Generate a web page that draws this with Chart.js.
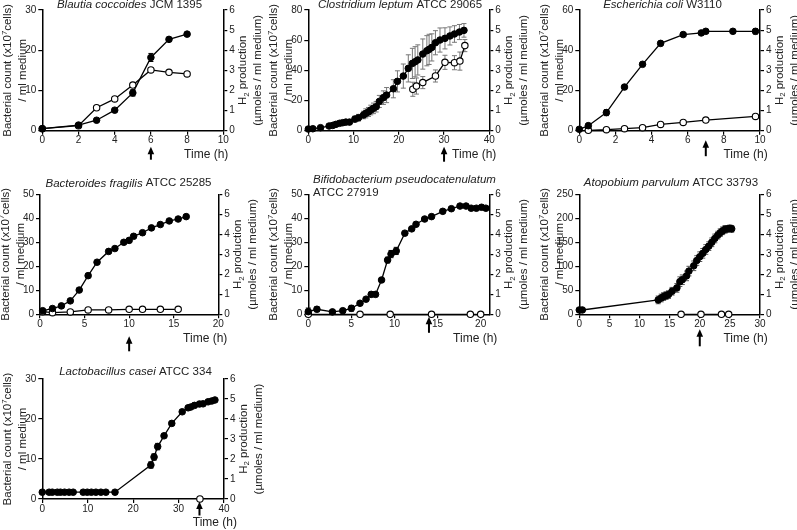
<!DOCTYPE html>
<html>
<head>
<meta charset="utf-8">
<script src="https://cdn.jsdelivr.net/npm/chart.js@4/dist/chart.umd.min.js"></script>
<style>
  html, body { margin: 0; padding: 0; background: #fff; }
  #wrap { position: relative; width: 797px; height: 530px; overflow: hidden; }
  #wrap canvas { position: absolute; left: 0; top: 0; }
</style>
</head>
<body>
<div id="wrap"></div>
<script>
// ---- data ----
// Blautia coccoides JCM 1395
const blautiaTime = [0, 2, 3, 4, 5, 6, 7, 8];
const blautiaCells = [0.5, 1.4, 2.6, 5.1, 9.4, 18.2, 22.7, 24.0];
const blautiaCellsErr = [0, 0, 0, 0.3, 0.8, 1.0, 0.4, 0.3];
const blautiaH2Time = [0, 2, 3, 4, 5, 6, 7, 8];
const blautiaH2 = [0.1, 0.25, 1.14, 1.58, 2.27, 3.02, 2.9, 2.82];
const blautiaH2Err = [0, 0, 0.08, 0.05, 0.05, 0.04, 0, 0];

// Clostridium leptum ATCC 29065
const clostridiumTime = [0, 1, 2.7, 4.6, 5.4, 6.1, 6.9, 7.6, 8.3, 9.1, 10.3, 11.1, 12.2, 12.7, 13.3, 13.8, 14.4, 15, 15.7, 16.6,
  17.3, 18.8, 19.7, 21, 22.1, 23, 23.6, 24.2, 25.3, 26.2, 26.7, 27.3, 28.1, 29.1, 30.2, 31.3, 32.3, 33.4, 34.4];
const clostridiumCells = [1.1, 1.3, 2, 3.1, 3.5, 4.2, 4.9, 5.3, 5.7, 5.7, 7.7, 8.6, 10.4, 11.5, 12.4, 13.7, 14.8, 15.9, 19.4, 21.9,
  23.6, 27.8, 32.7, 36.2, 41.3, 44.6, 45.7, 46.9, 50.8, 53, 53.9, 55.2, 58.3, 60.1, 61.2, 62.8, 64.1, 65.4, 66.5];
const clostridiumCellsErr = [0.5, 0.5, 0.7, 0.8, 1, 1, 1.2, 1.2, 1.5, 1.5, 2, 2.2, 2.5, 3, 3, 3.2, 3.5, 3.5, 4, 4.5,
  5, 6, 7, 8, 9, 10, 10, 10, 10, 10, 10, 9, 8, 8, 7, 6, 5.5, 5, 4.5];
const clostridiumH2Time = [23.1, 23.9, 25.3, 28.1, 30.2, 32.3, 33.5, 34.6];
const clostridiumH2 = [2.06, 2.22, 2.39, 2.72, 3.4, 3.38, 3.46, 4.23];
const clostridiumH2Err = [0.35, 0.4, 0.3, 0.3, 0.35, 0.35, 0.45, 0.3];

// Escherichia coli W3110
const ecoliTime = [0, 0.5, 1.5, 2.5, 3.5, 4.5, 5.75, 6.75, 7, 8.5, 9.75];
const ecoliCells = [0.7, 2.5, 9, 21.7, 33, 43.4, 47.8, 48.6, 49.4, 49.4, 49.4];
const ecoliCellsErr = [0, 0.4, 1.5, 1, 0.8, 0.5, 0.5, 0.5, 0.5, 0.5, 1.3];
const ecoliH2Time = [0.5, 1.5, 2.5, 3.5, 4.5, 5.75, 7, 9.75];
const ecoliH2 = [0.02, 0.05, 0.1, 0.15, 0.31, 0.41, 0.53, 0.71];

// Bacteroides fragilis ATCC 25285
const fragilisTime = [0.3, 1.4, 2.4, 3.4, 4.4, 5.4, 6.4, 7.7, 8.4, 9.4, 10, 10.5, 11.5, 12.5, 13.5, 14.5, 15.5, 16.4];
const fragilisCells = [1.5, 2.4, 3.5, 5.6, 10.1, 16.1, 21.7, 26.2, 27.4, 30, 30.8, 32.5, 34, 36, 37.4, 38.9, 39.7, 40.7];
const fragilisH2Time = [0.3, 1.4, 3.4, 5.4, 7.7, 10, 11.5, 13.5, 15.5];
const fragilisH2 = [0.13, 0.08, 0.12, 0.22, 0.22, 0.25, 0.25, 0.25, 0.25];

// Bifidobacterium pseudocatenulatum ATCC 27919
const bifidoTime = [0, 1, 2.8, 4, 5, 6, 6.7, 7.3, 7.8, 8.5, 9.2, 9.6, 10.2, 11.2, 12, 12.5, 13.5, 14.3, 15.6, 16.6,
  17.6, 18.3, 18.9, 19.5, 20.1, 20.6];
const bifidoCells = [1.1, 2.1, 1, 1.5, 2.5, 4.6, 6.3, 8.3, 8.3, 14.3, 22.6, 25.1, 26.4, 33.8, 35.6, 37.5, 39.7, 40.7, 42.9, 44,
  45.1, 45.1, 44.2, 44.2, 44.6, 44.2];
const bifidoCellsErr = [1.5, 1, 0.5, 0.8, 1.2, 0.5, 0.5, 0.5, 0.5, 0.8, 1.2, 1.5, 1.5, 0.5, 0.5, 0.5, 0.5, 0.5, 0.5, 0.5,
  0.5, 0.5, 0.5, 0.5, 0.5, 0.5];
const bifidoH2Time = [0, 6, 9.5, 14.3, 18.8, 20];
const bifidoH2 = [0, 0, 0, 0, 0, 0];

// Atopobium parvulum ATCC 33793
const atopobiumTime = [0, 0.5, 13.1, 13.6, 14, 14.4, 14.8, 15.4, 16.2, 16.7, 17.1, 17.8, 18.2, 19, 19.5, 20, 20.5, 21, 21.5, 22,
  22.5, 23, 23.4, 23.8, 24.2, 24.6, 25, 25.3];
const atopobiumCells = [9, 9, 30, 34, 37, 39, 41, 48, 55, 68, 72, 80, 90, 101, 112, 120, 127, 135, 142, 150,
  158, 165, 170, 174, 177, 178, 179, 178];
const atopobiumCellsErr = [3, 3, 8, 8, 8, 8, 8, 8, 9, 10, 10, 10, 10, 10, 10, 10, 10, 10, 9, 9,
  9, 8, 8, 8, 8, 7, 7, 7];
const atopobiumH2Time = [16.9, 20.2, 23.6, 24.8];
const atopobiumH2 = [0, 0, 0, 0];

// Lactobacillus casei ATCC 334
const caseiTime = [0, 1.5, 2.2, 3.3, 4, 4.9, 5.9, 6.8, 9, 9.9, 10.8, 11.8, 12.9, 14, 16,
  23.9, 24.6, 25.4, 26.8, 28.5, 30.8, 32.1, 32.7, 33.5, 34.6, 35.4, 36.5, 37.3, 38];
const caseiCells = [1.7, 1.7, 1.7, 1.7, 1.7, 1.7, 1.7, 1.7, 1.7, 1.7, 1.7, 1.7, 1.7, 1.7, 1.7,
  8.5, 10.5, 13.1, 15.8, 18.9, 21.8, 22.8, 23, 23.4, 23.75, 23.8, 24.3, 24.5, 24.75];
const caseiCellsErr = [0, 0, 0, 0, 0, 0, 0, 0, 0, 0, 0, 0, 0, 0, 0,
  0.8, 0.8, 0.8, 0.4, 0.3, 0.3, 0.2, 0.2, 0.2, 0.2, 0.2, 0.2, 0.2, 0.2];
const caseiH2Time = [34.7];
const caseiH2 = [0];

// ---- panel layout ----
const FONT = '"Liberation Sans", Arial, Helvetica, sans-serif';
const TEXT = '#222';

const panels = [
  { title: [{ segs: [{ t: 'Blautia coccoides', i: true }, { t: ' JCM 1395' }], x: 129.5, y: 5, align: 'center' }],
    left: 42.3, right: 223.3, top: 10, bottom: 130.7, xMax: 10, xStep: 2, yMax: 30, yStep: 10,
    time: blautiaTime, cells: blautiaCells, cellsErr: blautiaCellsErr, h2Time: blautiaH2Time, h2: blautiaH2, h2Err: blautiaH2Err,
    arrow: 6, arrowTop: 16, arrowLen: 13, timeDx: 5 },
  { title: [{ segs: [{ t: 'Clostridium leptum', i: true }, { t: ' ATCC 29065' }], x: 400, y: 4.5, align: 'center' }],
    left: 308.3, right: 489.3, top: 10, bottom: 130.7, xMax: 40, xStep: 10, yMax: 80, yStep: 20,
    time: clostridiumTime, cells: clostridiumCells, cellsErr: clostridiumCellsErr,
    h2Time: clostridiumH2Time, h2: clostridiumH2, h2Err: clostridiumH2Err, errColor: '#777',
    arrow: 30, arrowTop: 16, arrowLen: 15, timeDx: 7 },
  { title: [{ segs: [{ t: 'Escherichia coli', i: true }, { t: ' W3110' }], x: 662.5, y: 4.5, align: 'center' }],
    left: 579.3, right: 760, top: 10, bottom: 130.7, xMax: 10, xStep: 2, yMax: 60, yStep: 20,
    time: ecoliTime, cells: ecoliCells, cellsErr: ecoliCellsErr, h2Time: ecoliH2Time, h2: ecoliH2,
    arrow: 7, arrowTop: 9.5, arrowLen: 16, timeDx: 7.7 },
  { title: [{ segs: [{ t: 'Bacteroides fragilis', i: true }, { t: ' ATCC 25285' }], x: 128.5, y: 183.3, align: 'center' }],
    left: 40, right: 218.3, top: 194.3, bottom: 314.3, xMax: 20, xStep: 5, yMax: 50, yStep: 10,
    time: fragilisTime, cells: fragilisCells, h2Time: fragilisH2Time, h2: fragilisH2,
    arrow: 10, arrowTop: 22, arrowLen: 15, timeDx: 9 },
  { title: [{ segs: [{ t: 'Bifidobacterium pseudocatenulatum', i: true }], x: 404.5, y: 180, align: 'center' },
            { segs: [{ t: 'ATCC 27919' }], x: 313, y: 193, align: 'left' }],
    left: 308.3, right: 489.3, top: 194.3, bottom: 314.3, xMax: 21, xStep: 5, yMax: 50, yStep: 10,
    time: bifidoTime, cells: bifidoCells, cellsErr: bifidoCellsErr, h2Time: bifidoH2Time, h2: bifidoH2,
    arrow: 14, arrowTop: 2.5, arrowLen: 16, timeDx: 8 },
  { title: [{ segs: [{ t: 'Atopobium parvulum', i: true }, { t: ' ATCC 33793' }], x: 671, y: 182.7, align: 'center' }],
    left: 579.3, right: 760, top: 194.3, bottom: 314.3, xMax: 30, xStep: 5, yMax: 250, yStep: 50,
    time: atopobiumTime, cells: atopobiumCells, cellsErr: atopobiumCellsErr, h2Time: atopobiumH2Time, h2: atopobiumH2,
    errColor: '#555', arrow: 20, arrowTop: 15, arrowLen: 17, timeDx: 7.7 },
  { title: [{ segs: [{ t: 'Lactobacillus casei', i: true }, { t: ' ATCC 334' }], x: 135.5, y: 371.7, align: 'center' }],
    left: 42.3, right: 224, top: 379, bottom: 499, xMax: 40, xStep: 10, yMax: 30, yStep: 10,
    time: caseiTime, cells: caseiCells, cellsErr: caseiCellsErr, h2Time: caseiH2Time, h2: caseiH2,
    arrow: 34.6, arrowTop: 2.5, arrowLen: 14, timeDx: 13 }
];

const leftTitle = [
  [{ t: 'Bacterial count (x10' }, { t: '7', sup: true }, { t: 'cells)' }],
  [{ t: '/ ml medium' }]
];
const rightTitle = [
  [{ t: 'H' }, { t: '2', sub: true }, { t: ' production' }],
  [{ t: '(µmoles / ml medium)' }]
];

function segFont(s, size) {
  const sz = (s.sup || s.sub) ? size * 0.68 : size;
  return (s.i ? 'italic ' : '') + sz + 'px ' + FONT;
}

function drawRich(ctx, segs, x, y, align, size) {
  let w = 0;
  segs.forEach(s => { ctx.font = segFont(s, size); w += ctx.measureText(s.t).width; });
  let cx = align === 'center' ? x - w / 2 : align === 'right' ? x - w : x;
  ctx.textAlign = 'left';
  ctx.textBaseline = 'middle';
  segs.forEach(s => {
    ctx.font = segFont(s, size);
    const dy = s.sup ? -size * 0.33 : s.sub ? size * 0.28 : 0;
    ctx.fillText(s.t, cx, y + dy);
    cx += ctx.measureText(s.t).width;
  });
}

// error bars, panel titles, axis titles, time label and arrow
const panelDecor = {
  id: 'panelDecor',
  beforeDatasetsDraw(chart) {
    const ctx = chart.ctx;
    ctx.save();
    chart.data.datasets.forEach((ds, i) => {
      if (!ds.errors) return;
      const meta = chart.getDatasetMeta(i);
      const ys = chart.scales[ds.yAxisID];
      ctx.strokeStyle = ds.errorColor || '#000';
      ctx.lineWidth = 1;
      meta.data.forEach((pt, j) => {
        const e = ds.errors[j];
        if (!e) return;
        const v = ds.data[j].y;
        const y1 = ys.getPixelForValue(v - e);
        const y2 = ys.getPixelForValue(v + e);
        ctx.beginPath();
        ctx.moveTo(pt.x, y1); ctx.lineTo(pt.x, y2);
        ctx.moveTo(pt.x - 2.5, y1); ctx.lineTo(pt.x + 2.5, y1);
        ctx.moveTo(pt.x - 2.5, y2); ctx.lineTo(pt.x + 2.5, y2);
        ctx.stroke();
      });
    });
    ctx.restore();
  },
  afterDraw(chart) {
    const p = panels[Number(chart.canvas.dataset.panel)];
    const ctx = chart.ctx;
    const a = chart.chartArea;
    const midY = (a.top + a.bottom) / 2;
    ctx.save();
    ctx.fillStyle = TEXT;

    p.title.forEach(l => drawRich(ctx, l.segs, l.x, l.y, l.align, 11.5));

    leftTitle.forEach((segs, k) => {
      ctx.save();
      ctx.translate(a.left - 34 + k * 15, midY);
      ctx.rotate(-Math.PI / 2);
      drawRich(ctx, segs, 0, 0, 'center', 11.5);
      ctx.restore();
    });
    rightTitle.forEach((segs, k) => {
      ctx.save();
      ctx.translate(a.right + 20 + k * 14.5, midY);
      ctx.rotate(-Math.PI / 2);
      drawRich(ctx, segs, 0, 0, 'center', 11.5);
      ctx.restore();
    });

    drawRich(ctx, [{ t: 'Time (h)' }], a.right + p.timeDx, a.bottom + 24, 'right', 12);

    // sampling arrow
    const ax = chart.scales.x.getPixelForValue(p.arrow);
    const top = a.bottom + p.arrowTop;
    const bot = top + p.arrowLen;
    ctx.fillStyle = '#000';
    ctx.strokeStyle = '#000';
    ctx.lineWidth = 2;
    ctx.beginPath();
    ctx.moveTo(ax, top + 5); ctx.lineTo(ax, bot);
    ctx.stroke();
    ctx.beginPath();
    ctx.moveTo(ax, top); ctx.lineTo(ax - 3.3, top + 7.5); ctx.lineTo(ax + 3.3, top + 7.5);
    ctx.closePath();
    ctx.fill();
    ctx.restore();
  }
};

function toPoints(xs, ys) {
  return xs.map((x, i) => ({ x, y: ys[i] }));
}

function axisBase(pad) {
  return {
    grid: { display: true, drawOnChartArea: false, drawTicks: true, tickLength: 4, color: '#000', lineWidth: 1.2 },
    border: { display: true, color: '#000', width: 1.5 },
    ticks: { color: TEXT, font: { family: FONT, size: 10 }, padding: pad, includeBounds: false }
  };
}

function buildPanel(p, idx) {
  const canvas = document.createElement('canvas');
  canvas.width = 797;
  canvas.height = 530;
  canvas.dataset.panel = idx;
  document.getElementById('wrap').appendChild(canvas);

  const xAxis = axisBase(0);
  Object.assign(xAxis, { type: 'linear', min: 0, max: p.xMax, afterFit: s => { s.height = 25; } });
  xAxis.ticks.stepSize = p.xStep;

  const yAxis = axisBase(2);
  Object.assign(yAxis, { type: 'linear', position: 'left', min: 0, max: p.yMax, afterFit: s => { s.width = 42; } });
  yAxis.ticks.stepSize = p.yStep;

  const y2Axis = axisBase(2);
  Object.assign(y2Axis, { type: 'linear', position: 'right', min: 0, max: 6, afterFit: s => { s.width = 42; } });
  y2Axis.ticks.stepSize = 1;

  new Chart(canvas, {
    type: 'line',
    data: {
      datasets: [
        { data: toPoints(p.time, p.cells), errors: p.cellsErr, errorColor: p.errColor, yAxisID: 'y',
          borderColor: '#000', borderWidth: 1.3, pointRadius: 3.3, pointBackgroundColor: '#000',
          pointBorderColor: '#000', pointBorderWidth: 1, tension: 0, clip: false },
        { data: toPoints(p.h2Time, p.h2), errors: p.h2Err, errorColor: p.errColor, yAxisID: 'y2',
          borderColor: '#000', borderWidth: 1.3, pointRadius: 3.2, pointBackgroundColor: '#fff',
          pointBorderColor: '#000', pointBorderWidth: 1.1, tension: 0, clip: false }
      ]
    },
    options: {
      responsive: false,
      animation: false,
      events: [],
      layout: { padding: { left: p.left - 42, top: p.top, right: 797 - p.right - 42, bottom: 530 - p.bottom - 25 } },
      plugins: { legend: { display: false }, tooltip: { enabled: false } },
      scales: { x: xAxis, y: yAxis, y2: y2Axis }
    },
    plugins: [panelDecor]
  });
}

panels.forEach(buildPanel);
</script>
</body>
</html>
